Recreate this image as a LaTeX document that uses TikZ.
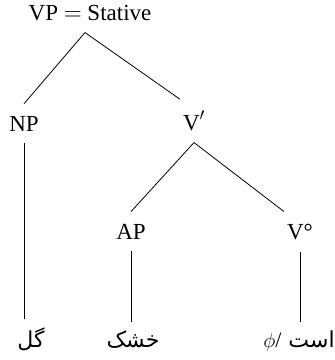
\documentclass[tikz,border=0pt]{standalone}
\usepackage{fontspec}
\setmainfont{Liberation Serif}
\newfontfamily\arabicfont[Script=Arabic]{DejaVu Sans}
\TeXXeTstate=1
\usetikzlibrary{positioning}

\begin{document}
\begin{tikzpicture}[x=1pt, y=-1pt,
  cat/.style={anchor=base, inner xsep=3pt, inner ysep=12pt,
              font=\fontsize{23}{27}\selectfont},
  word/.style={anchor=base, inner xsep=3pt, inner ysep=8pt,
               font=\fontsize{22}{26}\selectfont\arabicfont},
  branch/.style={line width=0.8pt}]
  \useasboundingbox (0,0) rectangle (335,360);

  % categories
  \node[cat] (vp)   at (90,20)   {VP $=$ Stative};
  \node[cat] (np)   at (24,131)  {NP};
  \node[cat] (vbar) at (194,130) {V$'$};
  \node[cat] (ap)   at (131,239) {AP};
  \node[cat] (vdeg) at (300,239) {V°};

  % words
  \node[word] (gol)    at (31,347)  {\beginR گل\endR};
  \node[word] (khoshk) at (133,347) {\beginR خشک\endR};
  \node[word] (ast)    at (299,347) {{\rmfamily$\phi$/} \beginR است\endR};

  \draw[branch] ([xshift=-5pt]vp.south) -- (np.north);
  \draw[branch] ([xshift=-5pt]vp.south) -- (vbar.north west);
  \draw[branch] (vbar.south) -- (ap.north);
  \draw[branch] (vbar.south) -- (vdeg.north west);
  \draw[branch] (np.south) -- (np.south |- gol.north);
  \draw[branch] (ap.south) -- (ap.south |- khoshk.north);
  \draw[branch] (vdeg.south) -- (vdeg.south |- ast.north);
\end{tikzpicture}
\end{document}
